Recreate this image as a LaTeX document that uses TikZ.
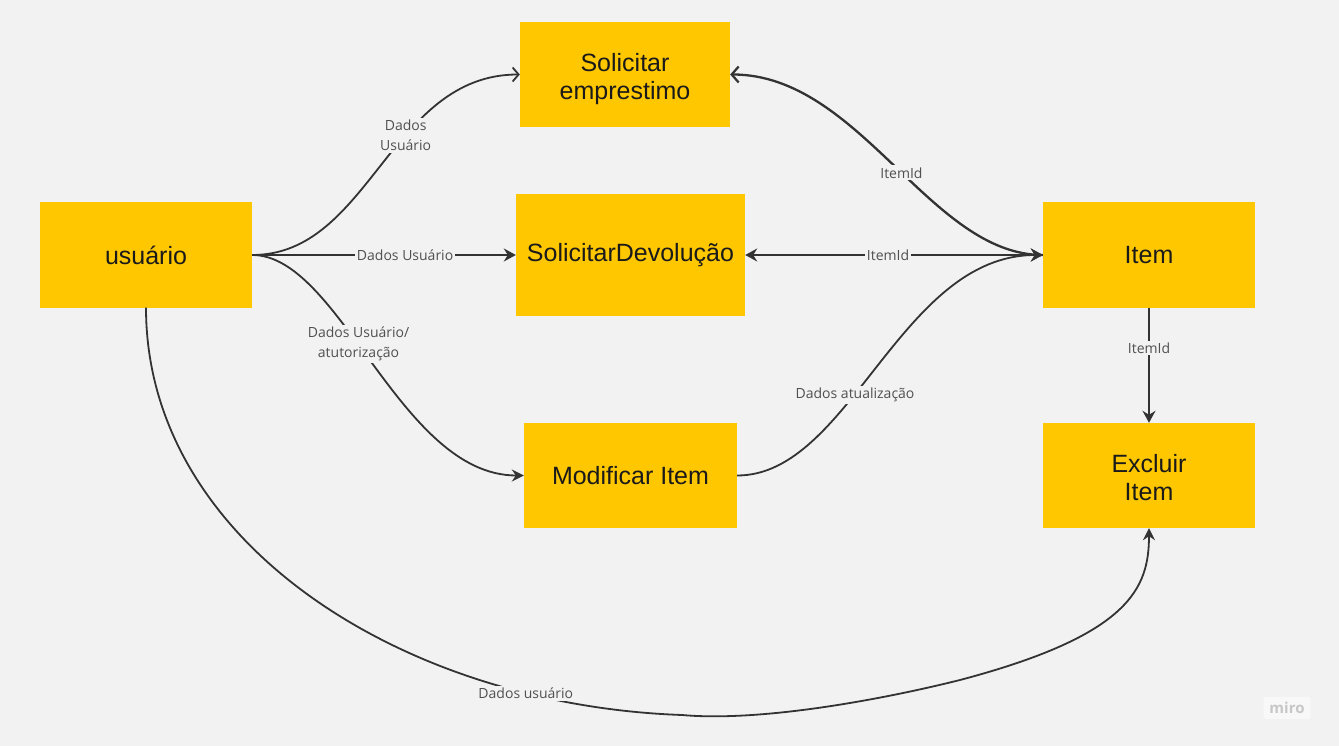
\documentclass[tikz,border=0pt]{standalone}
\usepackage{fontspec}
\setmainfont{Liberation Sans}
\newfontfamily\lblfont{Open Sans}
\usetikzlibrary{arrows.meta}
\definecolor{bg}{HTML}{F2F2F2}
\definecolor{boxy}{HTML}{FFC700}
\definecolor{ink}{HTML}{1A1A1A}
\definecolor{edge}{HTML}{333333}
\definecolor{lbl}{HTML}{505050}
\newcommand{\twolines}[2]{\raisebox{-5pt}[\height][\depth]{\begin{tabular}{@{}c@{}}#1\\#2\end{tabular}}}
\tikzset{
  box/.style={fill=boxy, draw=none, text=ink, align=center, inner sep=0pt,
    font=\fontsize{25}{28}\selectfont},
  conn/.style={draw=edge, line width=1.8pt},
  thick conn/.style={draw=edge, line width=2.3pt},
  filltip/.style={-{Stealth[length=12pt,width=13pt,inset=4pt]}},
  opentip/.style={-{Straight Barb[length=6pt,width=14pt,line width=1.8pt]}},
  elabel/.style={fill=bg, text=lbl, align=center, inner sep=2pt,
    font=\lblfont\fontsize{14}{20}\selectfont}
}
\begin{document}
\begin{tikzpicture}[x=1pt,y=-1pt]
\useasboundingbox (0,0) rectangle (1339,746);
\fill[bg] (0,0) rectangle (1339,746);

% boxes
\node[box, minimum width=210pt, minimum height=105pt] (emp) at (625,74.5) {\twolines{Solicitar}{emprestimo}};
\node[box, minimum width=212pt, minimum height=105pt] (usr) at (146,255) {usuário};
\node[box, minimum width=229pt, minimum height=122pt] (dev) at (630.5,255) {SolicitarDevolução};
\node[box, minimum width=212pt, minimum height=105pt] (item) at (1149,255) {Item};
\node[box, minimum width=213pt, minimum height=105pt] (mod) at (630.5,475.5) {Modificar Item};
\node[box, minimum width=212pt, minimum height=105pt] (exc) at (1149,475.5) {\twolines{Excluir}{Item}};

% connectors from usuario
\draw[conn, opentip] (usr.east) .. controls +(118,0) and +(-130,0) .. (emp.west)
  node[elabel, pos=0.61] {Dados\\Usuário};
\draw[thick conn, filltip] (usr.east) -- (dev.west)
  node[elabel, pos=0.58] {Dados Usuário};
\draw[conn, -{Stealth[length=12pt,width=12pt,inset=4pt]}] (usr.east) .. controls +(88,0) and +(-124,0) .. (mod.west)
  node[elabel, pos=0.435] {Dados Usuário/\\atutorização};

% long curve to Excluir
\coordinate (b1) at (682,715);
\coordinate (b2) at (960,680);
\draw[conn, -{Stealth[length=12pt,width=12pt,inset=4pt]}] (usr.south) .. controls +(0,233) and +(-282,-10) .. (b1)
  node[elabel, pos=0.81] {Dados usuário}
  .. controls +(78,7) and +(-80,20) .. (b2)
  .. controls +(170,-45) and +(0,60) .. (exc.south);

% connectors with Item
\draw[thick conn, {Straight Barb[length=7pt,width=16pt,line width=2.2pt]}-] (emp.east) .. controls +(130,0) and +(-113,0) .. (item.west)
  node[elabel, pos=0.53] {ItemId};
\draw[thick conn, {Stealth[length=12pt,width=13pt,inset=4pt]}-{Stealth[length=12pt,width=13pt,inset=4pt]}] (dev.east) -- (item.west)
  node[elabel, pos=0.48] {ItemId};
\draw[conn, filltip] (mod.east) .. controls +(113,0) and +(-143,0) .. (item.west)
  node[elabel, pos=0.41] {Dados atualização};
\draw[thick conn, filltip] (item.south) -- (exc.north)
  node[elabel, pos=0.35] {ItemId};

% watermark
\node[fill=white!45!bg, text=black!22, inner xsep=6pt, inner ysep=5pt, rounded corners=2pt,
  font=\lblfont\bfseries\fontsize{15}{15}\selectfont] (miro) at (1287,708) {miro};
\end{tikzpicture}
\end{document}
